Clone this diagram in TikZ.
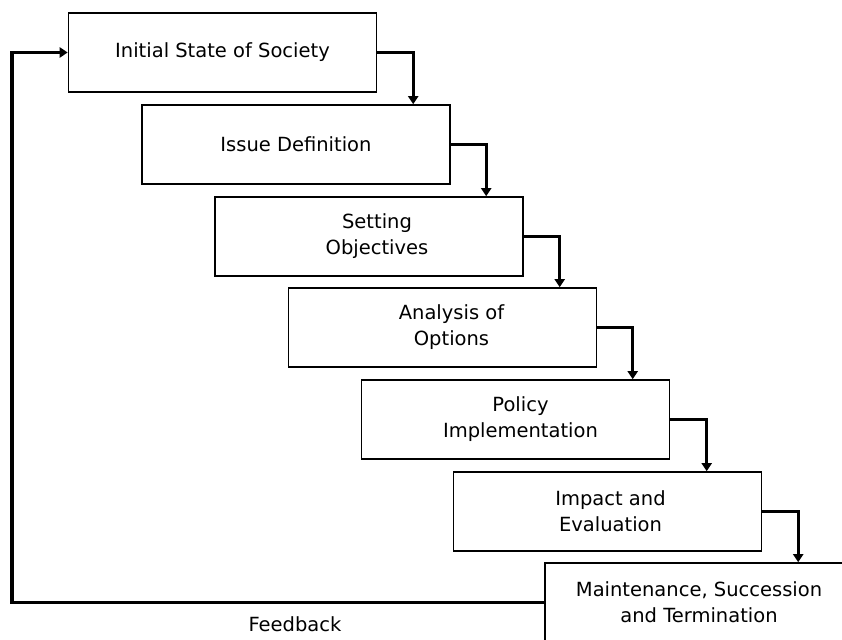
\documentclass[tikz,border=0pt]{standalone}
\usepackage{fontspec}
\setmainfont{DejaVu Sans}
\usetikzlibrary{arrows.meta}
\begin{document}
\begin{tikzpicture}[x=1pt,y=-1pt,
  stage/.style={draw, line width=1.6pt, rectangle, minimum width=308pt, minimum height=79pt,
    inner sep=0pt, align=center, font=\fontsize{19.5}{26}\selectfont, text=black},
  conn/.style={line width=3.2pt, -{Triangle[width=10pt,length=8pt]}}]
\useasboundingbox (0,0) rectangle (842,639);
\begin{scope}
\clip (0,0) rectangle (842,639);
\node[stage] (b1) at (222.5,52.5) {Initial State of Society};
\node[stage] (b2) at (296,144.5) {Issue Definition};
\node[stage] (b3) at (369,236.5) {\hspace*{16pt}Setting\\\hspace*{16pt}Objectives};
\node[stage] (b4) at (442.5,327.5) {\hspace*{18pt}Analysis of\\\hspace*{18pt}Options};
\node[stage] (b5) at (515.5,419.5) {\hspace*{10pt}Policy\\\hspace*{10pt}Implementation};
\node[stage] (b6) at (607.5,511.5) {\hspace*{6pt}Impact and\\\hspace*{6pt}Evaluation};
\node[stage] (b7) at (699,602.5) {Maintenance, Succession\\and Termination};
\draw[conn] (b1.east) -| ([xshift=272pt]b2.north west);
\draw[conn] (b2.east) -| ([xshift=272pt]b3.north west);
\draw[conn] (b3.east) -| ([xshift=272pt]b4.north west);
\draw[conn] (b4.east) -| ([xshift=272pt]b5.north west);
\draw[conn] (b5.east) -| ([xshift=254pt]b6.north west);
\draw[conn] (b6.east) -| ([xshift=254pt]b7.north west);
\coordinate (fb) at (12,0);
\draw[conn] (b7.west) -| (fb |- b1.west) -- (b1.west);
\node[font=\fontsize{19.5}{26}\selectfont, text=black] (fbl) at (295,624) {Feedback};
\end{scope}
\end{tikzpicture}
\end{document}
